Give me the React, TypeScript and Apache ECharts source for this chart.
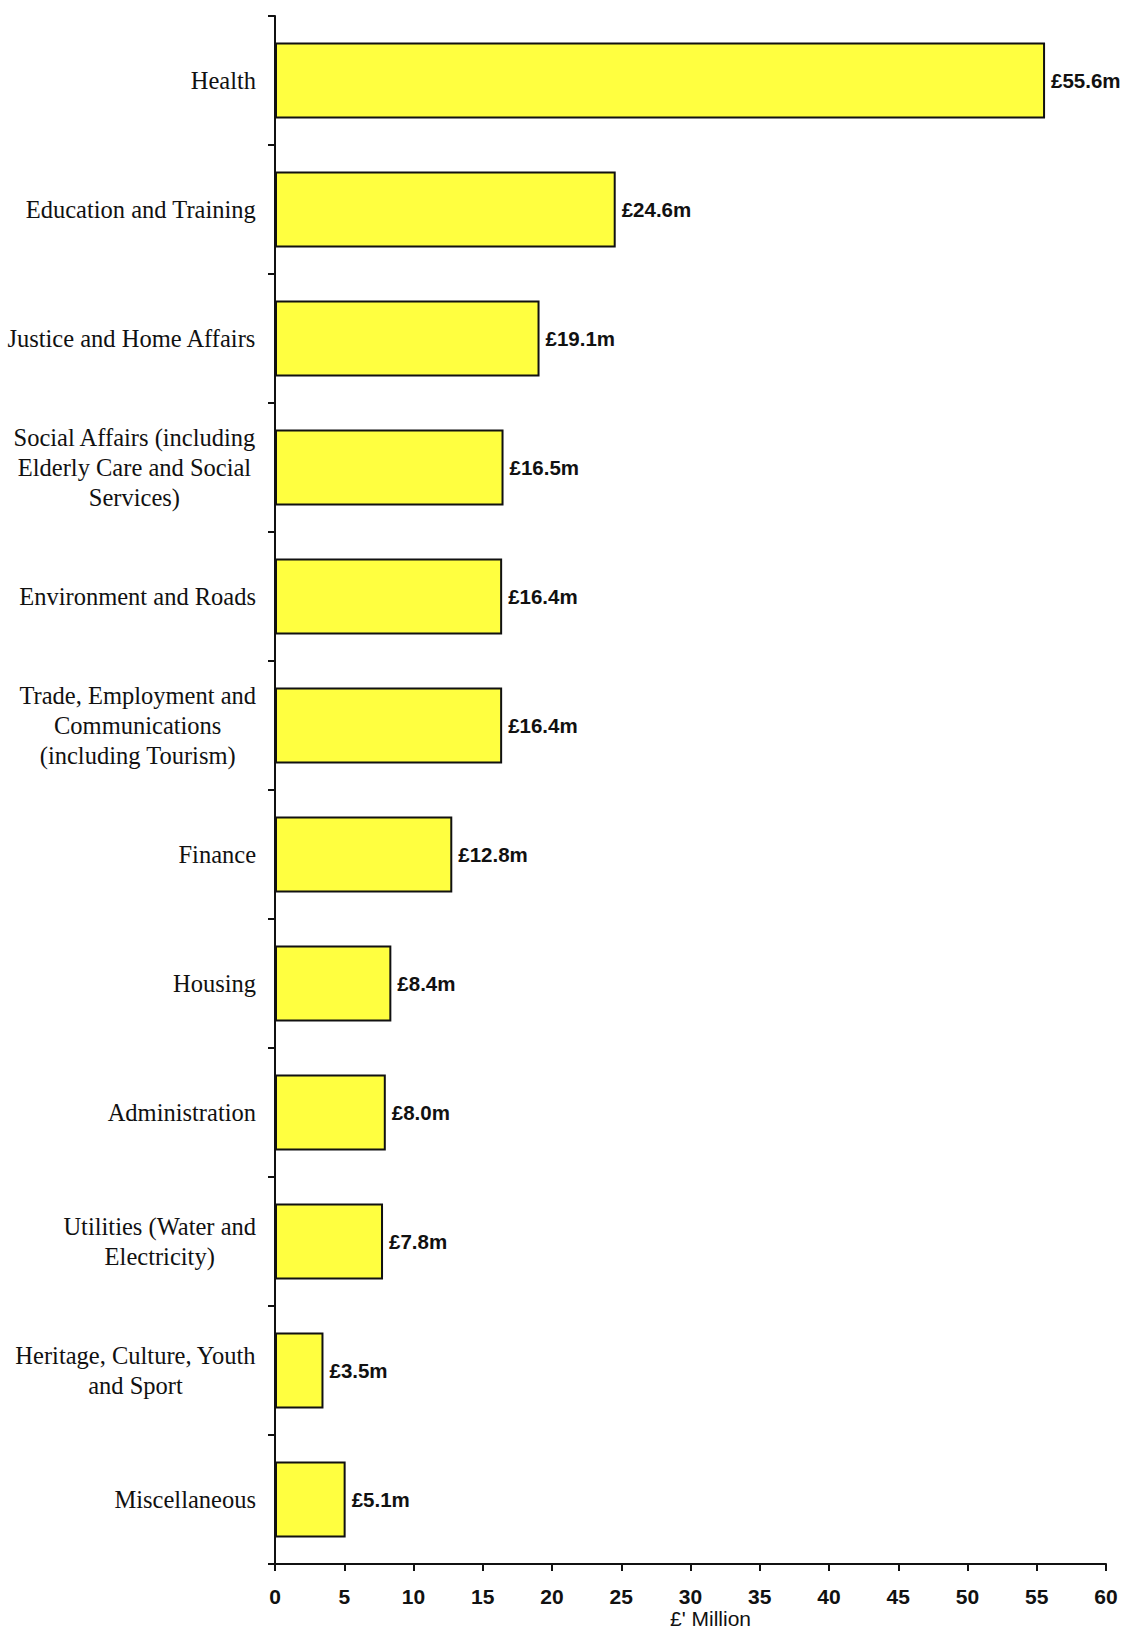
import React, { useEffect, useRef } from "react";
import * as echarts from "echarts";

const categories: string[] = [
  "Health",
  "Education and Training",
  "Justice and Home Affairs",
  "Social Affairs (including\nElderly Care and Social\nServices)",
  "Environment and Roads",
  "Trade, Employment and\nCommunications\n(including Tourism)",
  "Finance",
  "Housing",
  "Administration",
  "Utilities (Water and\nElectricity)",
  "Heritage, Culture, Youth\nand Sport",
  "Miscellaneous",
];

const values: number[] = [55.6, 24.6, 19.1, 16.5, 16.4, 16.4, 12.8, 8.4, 8.0, 7.8, 3.5, 5.1];

const xMin = 0;
const xMax = 60;
const xInterval = 5;
const xAxisName = "£' Million";

export default function App() {
  const ref = useRef<HTMLDivElement>(null);
  useEffect(() => {
    document.body.style.margin = "0";
    if (!ref.current) return;
    const chart = echarts.init(ref.current, null, { renderer: "svg" });
    const serif = '"Liberation Serif", "Times New Roman", serif';
    const sans = '"Liberation Sans", Arial, sans-serif';
    chart.setOption({
      animation: false,
      backgroundColor: "#ffffff",
      grid: {
        left: 275,
        right: 16,
        top: 16,
        bottom: 66,
        containLabel: false,
        outerBoundsMode: "none",
      },
      xAxis: {
        type: "value",
        min: xMin,
        max: xMax,
        interval: xInterval,
        name: xAxisName,
        nameLocation: "middle",
        nameMoveOverlap: false,
        nameGap: 44,
        nameTextStyle: {
          fontFamily: sans,
          fontSize: 21,
          color: "#111",
          padding: [0, 0, 0, 40],
        },
        axisLine: { show: true, lineStyle: { color: "#111", width: 2 } },
        axisTick: { show: true, length: 7, lineStyle: { color: "#111", width: 2 } },
        axisLabel: {
          margin: 22,
          fontFamily: sans,
          fontWeight: "bold",
          fontSize: 21,
          color: "#111",
        },
        splitLine: { show: false },
      },
      yAxis: {
        type: "category",
        data: categories,
        inverse: true,
        axisLine: { show: true, lineStyle: { color: "#111", width: 2 } },
        axisTick: { show: true, length: 7, lineStyle: { color: "#111", width: 2 } },
        axisLabel: {
          margin: 19,
          align: "right",
          color: "#111",
          fontFamily: serif,
          fontSize: 24.5,
          lineHeight: 30,
          formatter: (v: string) =>
            v
              .split("\n")
              .map((l) => `{c|${l}}`)
              .join("\n"),
          rich: {
            c: {
              align: "center",
              fontFamily: serif,
              fontSize: 24.5,
              lineHeight: 30,
              color: "#111",
            },
          },
        },
        splitLine: { show: false },
      },
      series: [
        {
          type: "bar",
          data: values,
          barWidth: "59%",
          itemStyle: {
            color: "#FFFF40",
            borderColor: "#111",
            borderWidth: 2,
          },
          label: {
            show: true,
            position: "right",
            distance: 6,
            fontFamily: sans,
            fontWeight: "bold",
            fontSize: 20.5,
            color: "#111",
            formatter: (p: any) => `£${Number(p.value).toFixed(1)}m`,
          },
        },
      ],
    });
    return () => chart.dispose();
  }, []);
  return <div ref={ref} style={{ width: 1122, height: 1630 }} />;
}
